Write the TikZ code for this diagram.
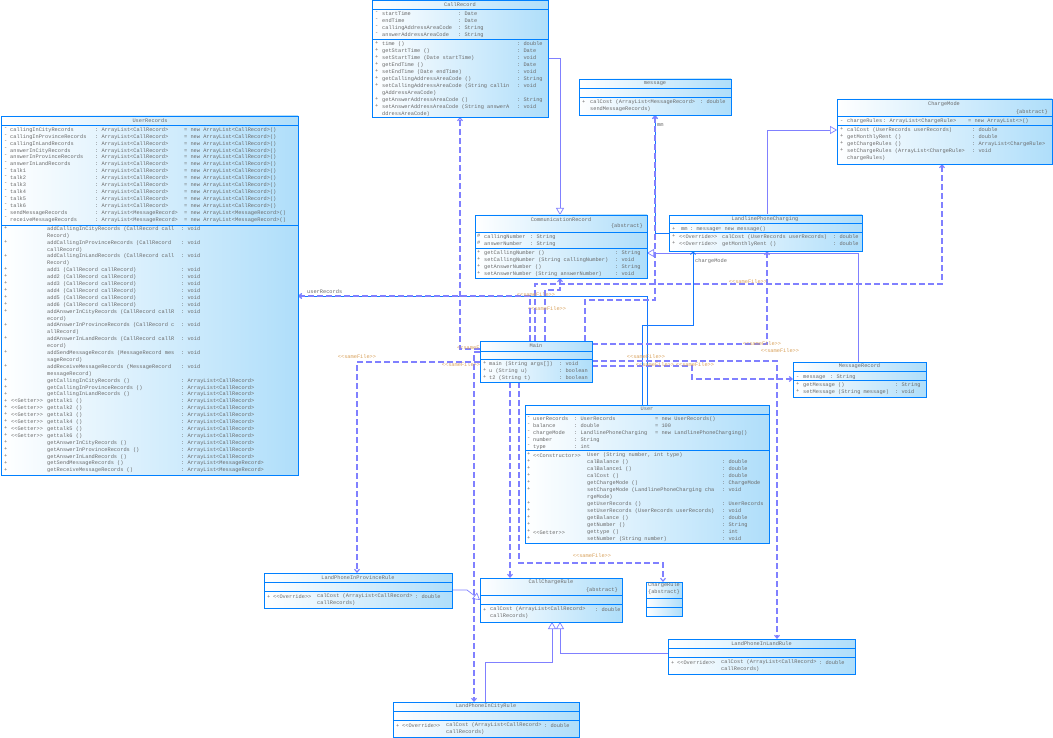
\documentclass[tikz,border=0pt]{standalone}
\usepackage{fontspec}
\setmonofont{Liberation Mono}
\usetikzlibrary{arrows.meta,backgrounds}

\begin{document}
\begin{tikzpicture}[x=1pt,y=-1pt,
  classbox/.style={draw=boxblue, line width=0.8pt, left color=white, right color=boxfill,
    inner sep=0pt, outer sep=0pt, anchor=north west},
  classline/.style={draw=boxblue, line width=0.8pt},
  umltext/.style={font=\ttfamily\fontsize{5.3}{7}\selectfont, text=umlgray, inner sep=0pt,
    align=left, anchor=north west, execute at begin node={\rule{0pt}{4.5pt}}},
  umltight/.style={umltext, font=\ttfamily\fontsize{5.3}{6.9}\selectfont},
  umltitle/.style={font=\ttfamily\fontsize{5.3}{7}\selectfont, text=umlgray, inner sep=0pt},
  samefile/.style={font=\ttfamily\fontsize{5.3}{7}\selectfont, text=sfcolor, inner sep=0pt},
  gen/.style={draw=linkblue, line width=0.7pt, -{Triangle[length=7pt, width=8pt, fill=white]}},
  assoc/.style={draw=assocblue, line width=0.8pt, -{Straight Barb[length=3pt, width=5pt]}},
  dep/.style={draw=linkblue, line width=1.1pt, dash pattern=on 6pt off 3pt,
    -{Straight Barb[length=3pt, width=5pt]}},
]

\definecolor{boxblue}{RGB}{0,128,255}
\definecolor{boxfill}{RGB}{175,222,250}
\definecolor{umlgray}{RGB}{105,105,105}
\definecolor{linkblue}{RGB}{128,128,255}
\definecolor{assocblue}{RGB}{20,120,255}
\definecolor{sfcolor}{RGB}{215,160,90}

\def\rowshift{1.7}
\newcommand{\UmlClass}[5]{\node[classbox, minimum width=#4pt, minimum height=#5pt] (#1) at (#2,#3) {};}
\newcommand{\UmlSep}[2]{\draw[classline] (#1.west |- 0,#2) -- (#1.east |- 0,#2);}
\newcommand{\UmlRows}[4]{\node[umltext] (#1) at (#2,#3-\rowshift) {#4};}

\useasboundingbox (0,0) rectangle (1053,738);

% class boxes
\UmlClass{CallRecord}{372}{0}{176}{117}
\UmlClass{UserRecords}{1}{116}{297}{359}
\UmlClass{message}{579}{79}{152}{36}
\UmlClass{ChargeMode}{837}{99}{215}{65}
\UmlClass{CommunicationRecord}{475}{215}{172}{63}
\UmlClass{LandlinePhoneCharging}{669}{215}{193}{36}
\UmlClass{Main}{480}{341}{112}{41}
\UmlClass{MessageRecord}{793}{362}{133}{35}
\UmlClass{User}{525}{405}{244}{138}
\UmlClass{LandPhoneInProvinceRule}{264}{573}{188}{35}
\UmlClass{CallChargeRule}{480}{578}{142}{44}
\UmlClass{ChargeRule}{646}{582}{36}{34}
\UmlClass{LandPhoneInLandRule}{668}{639}{187}{35}
\UmlClass{LandPhoneInCityRule}{393}{702}{186}{35}

\UmlSep{CallRecord}{9}  \UmlSep{CallRecord}{39}
\UmlSep{UserRecords}{125}  \UmlSep{UserRecords}{225}
\UmlSep{message}{88}  \UmlSep{message}{97}
\UmlSep{ChargeMode}{116}  \UmlSep{ChargeMode}{125}
\UmlSep{CommunicationRecord}{232}  \UmlSep{CommunicationRecord}{248}
\UmlSep{LandlinePhoneCharging}{223.5}  \UmlSep{LandlinePhoneCharging}{232}
\UmlSep{Main}{351}  \UmlSep{Main}{359}
\UmlSep{MessageRecord}{371}  \UmlSep{MessageRecord}{380}
\UmlSep{User}{414}  \UmlSep{User}{450}
\UmlSep{LandPhoneInProvinceRule}{582}  \UmlSep{LandPhoneInProvinceRule}{591}
\UmlSep{CallChargeRule}{595}  \UmlSep{CallChargeRule}{604}
\UmlSep{ChargeRule}{598}  \UmlSep{ChargeRule}{607}
\UmlSep{LandPhoneInLandRule}{648}  \UmlSep{LandPhoneInLandRule}{657}
\UmlSep{LandPhoneInCityRule}{711}  \UmlSep{LandPhoneInCityRule}{720}

% CallRecord
\node[umltitle] (crTitle) at (460,4.5) {CallRecord};
\UmlRows{crAttrVis}{375}{13}{-\\-\\-\\-}
\UmlRows{crAttrName}{382}{13}{startTime\\endTime\\callingAddressAreaCode\\answerAddressAreaCode}
\UmlRows{crAttrType}{458}{13}{: Date\\: Date\\: String\\: String}
\UmlRows{crOpVis}{375}{43}{+\\+\\+\\+\\+\\+\\+\\~\\+\\+}
\UmlRows{crOpName}{382}{43}{time ()\\getStartTime ()\\setStartTime (Date startTime)\\getEndTime ()\\setEndTime (Date endTime)\\getCallingAddressAreaCode ()\\setCallingAddressAreaCode (String callin\\gAddressAreaCode)\\getAnswerAddressAreaCode ()\\setAnswerAddressAreaCode (String answerA\\ddressAreaCode)}
\UmlRows{crOpType}{517}{43}{: double\\: Date\\: void\\: Date\\: void\\: String\\: void\\~\\: String\\: void}

% UserRecords
\node[umltitle] (urTitle) at (150,120.5) {UserRecords};
\node[umltight] (urAttrVis) at (4,129-\rowshift) {-\\-\\-\\-\\-\\-\\-\\-\\-\\-\\-\\-\\-\\-};
\node[umltight] (urAttrName) at (10,129-\rowshift) {callingInCityRecords\\callingInProvinceRecords\\callingInLandRecords\\answerInCityRecords\\answerInProvinceRecords\\answerInLandRecords\\talk1\\talk2\\talk3\\talk4\\talk5\\talk6\\sendMessageRecords\\receiveMessageRecords};
\node[umltight] (urAttrType) at (95,129-\rowshift) {: ArrayList<CallRecord>\\: ArrayList<CallRecord>\\: ArrayList<CallRecord>\\: ArrayList<CallRecord>\\: ArrayList<CallRecord>\\: ArrayList<CallRecord>\\: ArrayList<CallRecord>\\: ArrayList<CallRecord>\\: ArrayList<CallRecord>\\: ArrayList<CallRecord>\\: ArrayList<CallRecord>\\: ArrayList<CallRecord>\\: ArrayList<MessageRecord>\\: ArrayList<MessageRecord>};
\node[umltight] (urAttrInit) at (184,129-\rowshift) {= new ArrayList<CallRecord>()\\= new ArrayList<CallRecord>()\\= new ArrayList<CallRecord>()\\= new ArrayList<CallRecord>()\\= new ArrayList<CallRecord>()\\= new ArrayList<CallRecord>()\\= new ArrayList<CallRecord>()\\= new ArrayList<CallRecord>()\\= new ArrayList<CallRecord>()\\= new ArrayList<CallRecord>()\\= new ArrayList<CallRecord>()\\= new ArrayList<CallRecord>()\\= new ArrayList<MessageRecord>()\\= new ArrayList<MessageRecord>()};
\node[umltight] (urOpVis) at (4,228-\rowshift) {+\\~\\+\\~\\+\\~\\+\\+\\+\\+\\+\\+\\+\\~\\+\\~\\+\\~\\+\\~\\+\\~\\+\\+\\+\\+\\+\\+\\+\\+\\+\\+\\+\\+\\+\\+};
\node[umltight] (urOpStereo) at (11,400.5-\rowshift) {<<Getter>>\\<<Getter>>\\<<Getter>>\\<<Getter>>\\<<Getter>>\\<<Getter>>};
\node[umltight] (urOpName) at (47,228-\rowshift) {addCallingInCityRecords (CallRecord call\\Record)\\addCallingInProvinceRecords (CallRecord\\callRecord)\\addCallingInLandRecords (CallRecord call\\Record)\\add1 (CallRecord callRecord)\\add2 (CallRecord callRecord)\\add3 (CallRecord callRecord)\\add4 (CallRecord callRecord)\\add5 (CallRecord callRecord)\\add6 (CallRecord callRecord)\\addAnswerInCityRecords (CallRecord callR\\ecord)\\addAnswerInProvinceRecords (CallRecord c\\allRecord)\\addAnswerInLandRecords (CallRecord callR\\ecord)\\addSendMessageRecords (MessageRecord mes\\sageRecord)\\addReceiveMessageRecords (MessageRecord\\messageRecord)\\getCallingInCityRecords ()\\getCallingInProvinceRecords ()\\getCallingInLandRecords ()\\gettalk1 ()\\gettalk2 ()\\gettalk3 ()\\gettalk4 ()\\gettalk5 ()\\gettalk6 ()\\getAnswerInCityRecords ()\\getAnswerInProvinceRecords ()\\getAnswerInLandRecords ()\\getSendMessageRecords ()\\getReceiveMessageRecords ()};
\node[umltight] (urOpType) at (181,228-\rowshift) {: void\\~\\: void\\~\\: void\\~\\: void\\: void\\: void\\: void\\: void\\: void\\: void\\~\\: void\\~\\: void\\~\\: void\\~\\: void\\~\\: ArrayList<CallRecord>\\: ArrayList<CallRecord>\\: ArrayList<CallRecord>\\: ArrayList<CallRecord>\\: ArrayList<CallRecord>\\: ArrayList<CallRecord>\\: ArrayList<CallRecord>\\: ArrayList<CallRecord>\\: ArrayList<CallRecord>\\: ArrayList<CallRecord>\\: ArrayList<CallRecord>\\: ArrayList<CallRecord>\\: ArrayList<MessageRecord>\\: ArrayList<MessageRecord>};

% message
\node[umltitle] (msgTitle) at (655,83.5) {message};
\UmlRows{msgOpVis}{582}{101}{+}
\UmlRows{msgOpName}{590}{101}{calCost (ArrayList<MessageRecord>\\sendMessageRecords)}
\UmlRows{msgOpType}{700}{101}{: double}

% ChargeMode
\node[umltitle] (cmTitle) at (944,104) {ChargeMode};
\node[umltitle, anchor=east] (cmAbstract) at (1048,112) {\{abstract\}};
\UmlRows{cmAttrVis}{840}{120}{-}
\UmlRows{cmAttrName}{847}{120}{chargeRules}
\UmlRows{cmAttrType}{883}{120}{: ArrayList<ChargeRule>}
\UmlRows{cmAttrInit}{968}{120}{= new ArrayList<>()}
\UmlRows{cmOpVis}{840}{129}{+\\+\\+\\+}
\UmlRows{cmOpName}{847}{129}{calCost (UserRecords userRecords)\\getMonthlyRent ()\\getChargeRules ()\\setChargeRules (ArrayList<ChargeRule>\\chargeRules)}
\UmlRows{cmOpType}{972}{129}{: double\\: double\\: ArrayList<ChargeRule>\\: void}

% CommunicationRecord
\node[umltitle] (comTitle) at (561,219.5) {CommunicationRecord};
\node[umltitle, anchor=east] (comAbstract) at (643,226) {\{abstract\}};
\UmlRows{comAttrVis}{477}{236}{\#\\\#}
\UmlRows{comAttrName}{484}{236}{callingNumber\\answerNumber}
\UmlRows{comAttrType}{530}{236}{: String\\: String}
\UmlRows{comOpVis}{477}{252}{+\\+\\+\\+}
\UmlRows{comOpName}{484}{252}{getCallingNumber ()\\setCallingNumber (String callingNumber)\\getAnswerNumber ()\\setAnswerNumber (String answerNumber)}
\UmlRows{comOpType}{615}{252}{: String\\: void\\: String\\: void}

% LandlinePhoneCharging
\node[umltitle] (lpcTitle) at (765,219) {LandlinePhoneCharging};
\UmlRows{lpcAttrVis}{672}{228}{+}
\UmlRows{lpcAttrName}{681}{228}{mm}
\UmlRows{lpcAttrType}{690}{228}{: message}
\UmlRows{lpcAttrInit}{718}{228}{= new message()}
\UmlRows{lpcOpVis}{672}{236}{+\\+}
\UmlRows{lpcOpStereo}{679}{236}{<<Override>>\\<<Override>>}
\UmlRows{lpcOpName}{722}{236}{calCost (UserRecords userRecords)\\getMonthlyRent ()}
\UmlRows{lpcOpType}{833}{236}{: double\\: double}

% Main
\node[umltitle] (mainTitle) at (536,346) {Main};
\UmlRows{mainOpVis}{483}{363}{+\\+\\+}
\UmlRows{mainOpName}{489}{363}{main (String args[])\\u (String u)\\t2 (String t)}
\UmlRows{mainOpType}{559}{363}{: void\\: boolean\\: boolean}

% MessageRecord
\node[umltitle] (mrTitle) at (859.5,366) {MessageRecord};
\UmlRows{mrAttrVis}{796}{375}{-}
\UmlRows{mrAttrName}{803}{375}{message}
\UmlRows{mrAttrType}{830}{375}{: String}
\UmlRows{mrOpVis}{796}{384}{+\\+}
\UmlRows{mrOpName}{803}{384}{getMessage ()\\setMessage (String message)}
\UmlRows{mrOpType}{895}{384}{: String\\: void}

% User
\node[umltitle] (userTitle) at (647,409) {User};
\UmlRows{userAttrVis}{527}{418}{-\\-\\-\\-\\-}
\UmlRows{userAttrName}{533}{418}{userRecords\\balance\\chargeMode\\number\\type}
\UmlRows{userAttrType}{574}{418}{: UserRecords\\: double\\: LandlinePhoneCharging\\: String\\: int}
\UmlRows{userAttrInit}{655}{418}{= new UserRecords()\\= 100\\= new LandlinePhoneCharging()}
\UmlRows{userOpVis}{527}{454}{+\\+\\+\\+\\+\\+\\~\\+\\+\\+\\+\\+\\+}
\UmlRows{userOpCtor}{533}{454}{<<Constructor>>}
\UmlRows{userOpGetter}{533}{531}{<<Getter>>}
\UmlRows{userOpName}{587}{454}{User (String number, int type)\\calBalance ()\\calBalance1 ()\\calCost ()\\getChargeMode ()\\setChargeMode (LandlinePhoneCharging cha\\rgeMode)\\getUserRecords ()\\setUserRecords (UserRecords userRecords)\\getBalance ()\\getNumber ()\\gettype ()\\setNumber (String number)}
\UmlRows{userOpType}{722}{461}{: double\\: double\\: double\\: ChargeMode\\: void\\~\\: UserRecords\\: void\\: double\\: String\\: int\\: void}

% rules
\node[umltitle] (lpprTitle) at (358,577.5) {LandPhoneInProvinceRule};
\UmlRows{lpprOpVis}{267}{595}{+}
\UmlRows{lpprOpStereo}{273}{595}{<<Override>>}
\UmlRows{lpprOpName}{317}{595}{calCost (ArrayList<CallRecord>\\callRecords)}
\UmlRows{lpprOpType}{415}{595}{: double}

\node[umltitle] (ccrTitle) at (551,582.5) {CallChargeRule};
\node[umltitle, anchor=east] (ccrAbstract) at (618,590) {\{abstract\}};
\UmlRows{ccrOpVis}{483}{608}{+}
\UmlRows{ccrOpName}{490}{608}{calCost (ArrayList<CallRecord>\\callRecords)}
\UmlRows{ccrOpType}{595}{608}{: double}

\node[umltitle] (chrTitle) at (664,585.5) {ChargeRule};
\node[umltitle] (chrAbstract) at (664,592.5) {\{abstract\}};

\node[umltitle] (lplrTitle) at (761.5,643.5) {LandPhoneInLandRule};
\UmlRows{lplrOpVis}{671}{661}{+}
\UmlRows{lplrOpStereo}{677}{661}{<<Override>>}
\UmlRows{lplrOpName}{721}{661}{calCost (ArrayList<CallRecord>\\callRecords)}
\UmlRows{lplrOpType}{819}{661}{: double}

\node[umltitle] (lpcrTitle) at (486,706.5) {LandPhoneInCityRule};
\UmlRows{lpcrOpVis}{396}{724}{+}
\UmlRows{lpcrOpStereo}{402}{724}{<<Override>>}
\UmlRows{lpcrOpName}{446}{724}{calCost (ArrayList<CallRecord>\\callRecords)}
\UmlRows{lpcrOpType}{544}{724}{: double}

\begin{pgfonlayer}{background}
% generalizations
\draw[gen] (CallRecord.east |- 0,58) -| (CommunicationRecord.north -| 560,0);
\draw[gen] (MessageRecord.north -| 858,0) |- (CommunicationRecord.east |- 0,253);
\draw[gen] (LandlinePhoneCharging.north -| 767,0) |- (ChargeMode.west |- 0,130);
\draw[gen] (LandPhoneInProvinceRule.east |- 0,590) -- (467,590) -- (CallChargeRule.west |- 0,600);
\draw[gen] (LandPhoneInCityRule.north -| 485,0) |- (552,662) -- (CallChargeRule.south -| 552,0);
\draw[gen] (LandPhoneInLandRule.west |- 0,653) -| (CallChargeRule.south -| 560,0);

% associations
\draw[assoc] (LandlinePhoneCharging.west |- 0,233) -| (message.south -| 655,0);
\node[umltitle, anchor=west] (mmLabel) at (657,125) {mm};
\draw[assoc] (User.north -| 647,0) |- (UserRecords.east |- 0,296);
\node[umltitle, anchor=west] (urLabel) at (307,292) {userRecords};
\draw[assoc] (User.north -| 642,0) |- (693,325) -- (LandlinePhoneCharging.south -| 693,0);
\node[umltitle, anchor=west] (cmLabel) at (695,261) {chargeMode};

% sameFile dependencies
\draw[dep] (Main.west |- 0,349) -| (CallRecord.south -| 460,0);
\node[samefile, anchor=west] (sfCallRecord) at (457,348) {<<sameFile>>};
\draw[dep] (Main.west |- 0,352) -| (LandPhoneInCityRule.north -| 474,0);
\node[samefile] (sfCityRule) at (461,365) {<<sameFile>>};
\draw[dep] (Main.west |- 0,362) -| (LandPhoneInProvinceRule.north -| 357,0);
\node[samefile] (sfProvinceRule) at (357,357) {<<sameFile>>};
\draw[dep] (Main.south -| 510,0) -- (CallChargeRule.north -| 510,0);
\draw[dep] (Main.south -| 519,0) |- (663,563) -- (ChargeRule.north -| 663,0);
\node[samefile] (sfChargeRule) at (592,556) {<<sameFile>>};
\draw[dep] (Main.east |- 0,344) -| (LandlinePhoneCharging.south -| 767,0);
\node[samefile] (sfCharging) at (762,344) {<<sameFile>>};
\draw[dep] (Main.east |- 0,361) -| (LandPhoneInLandRule.north -| 777,0);
\node[samefile] (sfLandRule) at (780,351) {<<sameFile>>};
\draw[dep] (Main.east |- 0,366) -- (692,366) |- (MessageRecord.west |- 0,379);
\node[samefile] (sfUser) at (646,357) {<<sameFile>>};
\node[samefile] (sfMessageRecord) at (655,365) {<<sameFile>>};
\node[samefile] (sfMessage) at (695,365) {<<sameFile>>};
\draw[dep] (Main.north -| 535,0) |- (942,284) -- (ChargeMode.south -| 942,0);
\node[samefile] (sfChargeMode) at (748,282) {<<sameFile>>};
\draw[dep] (Main.north -| 545,0) |- (560,290) -- (CommunicationRecord.south -| 560,0);
\node[samefile] (sfComRecord) at (547,309) {<<sameFile>>};
\draw[dep] (Main.north -| 585,0) |- (655,300) -- (message.south -| 655,0);
\draw[dep] (Main.north -| 530,0) |- (UserRecords.east |- 0,296);
\node[samefile] (sfUserRecords) at (536,295) {<<sameFile>>};
\end{pgfonlayer}

\end{tikzpicture}
\end{document}
